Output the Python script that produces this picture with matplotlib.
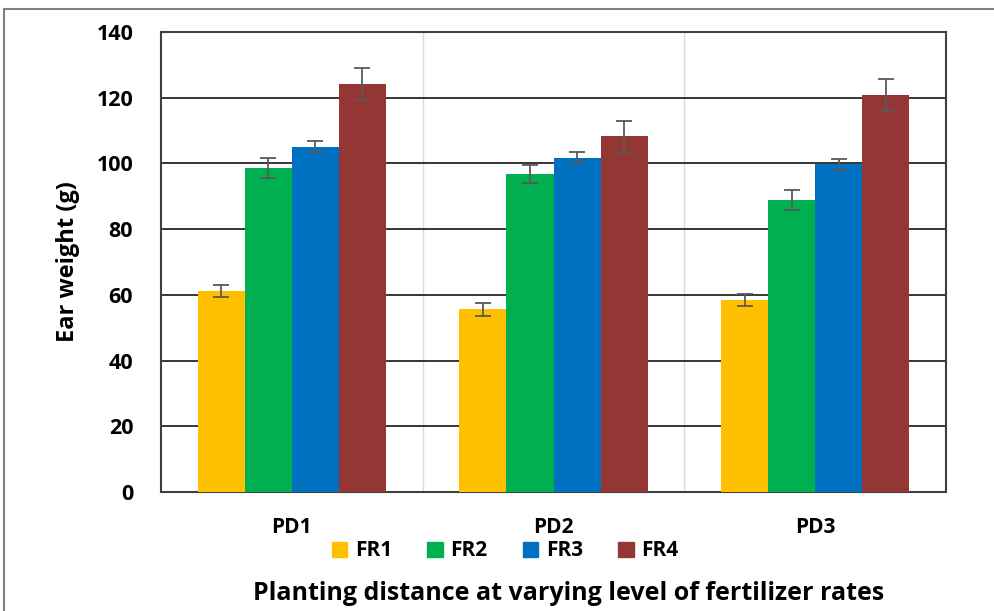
import matplotlib
matplotlib.use("Agg")
import matplotlib.pyplot as plt
import numpy as np
from matplotlib.lines import Line2D
from matplotlib.patches import Patch

categories = ["PD1", "PD2", "PD3"]
series = ["FR1", "FR2", "FR3", "FR4"]
fr1 = [61.2, 55.6, 58.4]
fr2 = [98.7, 96.8, 88.9]
fr3 = [105.1, 101.7, 99.7]
fr4 = [124.1, 108.2, 120.8]
fr1_err = [1.9, 1.9, 1.9]
fr2_err = [3.0, 2.8, 3.0]
fr3_err = [1.7, 1.7, 1.7]
fr4_err = [4.9, 4.8, 4.8]
colors = ["#FFC000", "#00B050", "#0070C0", "#943634"]

values = [fr1, fr2, fr3, fr4]
errs = [fr1_err, fr2_err, fr3_err, fr4_err]

plt.rcParams['font.family'] = ['Open Sans', 'DejaVu Sans']
plt.rcParams['font.weight'] = 'bold'

fig = plt.figure(figsize=(9.94, 6.11), dpi=100)
ax = fig.add_axes([161/994, 1 - 492/611, 785/994, 460/611])

x = np.arange(len(categories))
w = 0.18
for i, (vals, er, c, name) in enumerate(zip(values, errs, colors, series)):
    ax.bar(x + (i - 1.5) * w, vals, w, color=c, label=name, zorder=3,
           yerr=er, error_kw=dict(ecolor="#595959", elinewidth=1.3, capsize=5.5, capthick=1.3, zorder=4))

ax.set_xlim(-0.5, 2.5)
ax.set_ylim(0, 140)
ax.set_yticks(np.arange(0, 141, 20))
ax.yaxis.grid(True, color="#262626", linewidth=1.3, zorder=0)
for xs in [0.5, 1.5]:
    ax.axvline(xs, color="#D9D9D9", linewidth=1, zorder=1)
for s in ax.spines.values():
    s.set_color("#404040")
    s.set_linewidth(1.5)
ax.set_xticks(x)
ax.set_xticklabels(categories, fontsize=15, fontweight='bold')
ax.tick_params(axis='x', length=0, pad=18)
ax.tick_params(axis='y', length=0, pad=20)
for t in ax.get_yticklabels():
    t.set_fontweight('bold')
    t.set_fontsize(15.5)
ax.set_ylabel("Ear weight (g)", fontsize=17, fontweight='bold', labelpad=12)

handles = [Patch(color=c, label=n) for c, n in zip(colors, series)]
fig.legend(handles=handles, loc='center', bbox_to_anchor=(505/994, 1 - 551/611), ncol=4,
           frameon=False, handlelength=0.75, handleheight=0.75,
           columnspacing=1.7, handletextpad=0.35, prop={'weight': 'bold', 'size': 15})

fig.text(569/994, 1 - 594/611, "Planting distance at varying level of fertilizer rates",
         ha='center', va='center', fontsize=18, fontweight='bold')

fig.add_artist(Line2D([4/994, 4/994], [0, 1 - 9/611], transform=fig.transFigure, color="#7F7F7F", linewidth=1.5))
fig.add_artist(Line2D([4/994, 1], [1 - 9/611, 1 - 9/611], transform=fig.transFigure, color="#7F7F7F", linewidth=1.5))

fig.savefig("out.png", dpi=100)
